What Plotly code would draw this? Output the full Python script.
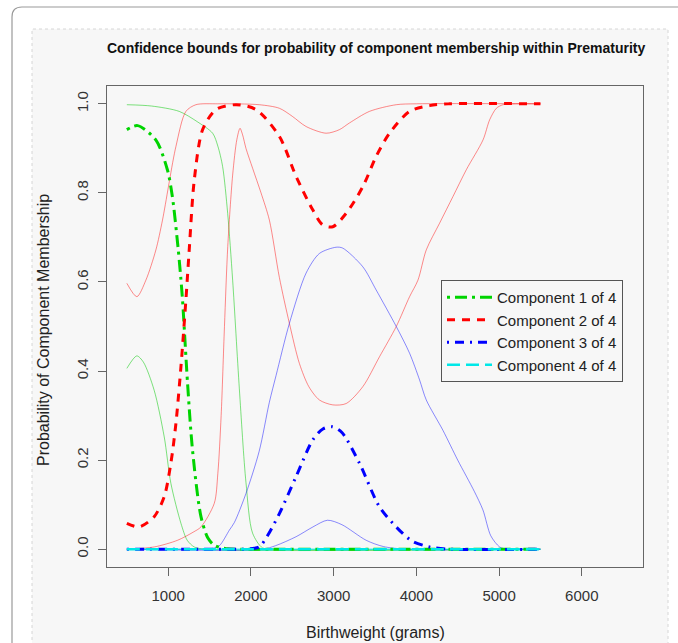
import plotly.graph_objects as go

# ---------------- data ----------------
comp1_x = [500, 630, 850, 990, 1050, 1120, 1154, 1173, 1234, 1294, 1396, 1480, 1557, 1700, 2000, 5500]
comp1_est = [0.942, 0.951, 0.919, 0.852, 0.792, 0.675, 0.605, 0.56, 0.372, 0.222, 0.073, 0.025, 0.009, 0.001, 0, 0]
comp1_up_x = [500, 800, 1133, 1350, 1537, 1600, 1658, 1719, 1779, 1860, 1940, 2020, 2140, 2300, 5500]
comp1_up = [0.998, 0.995, 0.983, 0.96, 0.934, 0.905, 0.859, 0.754, 0.604, 0.36, 0.15, 0.036, 0.003, 0, 0]
comp1_lo_x = [500, 620, 700, 830, 952, 1032, 1154, 1230, 1315, 1450, 5500]
comp1_lo = [0.406, 0.434, 0.42, 0.357, 0.252, 0.148, 0.058, 0.02, 0.005, 0, 0]

comp2_x = [500, 650, 830, 952, 1032, 1093, 1154, 1214, 1254, 1315, 1416, 1577, 1820, 2062, 2344,
           2546, 2747, 2868, 2990, 3151, 3353, 3514, 3676, 3918, 4160, 4400, 5500]
comp2_est = [0.058, 0.05, 0.073, 0.118, 0.193, 0.282, 0.41, 0.56, 0.672, 0.829, 0.942, 0.987, 0.998, 0.987, 0.927,
             0.837, 0.762, 0.728, 0.724, 0.754, 0.814, 0.882, 0.934, 0.983, 0.996, 1.0, 1.0]
comp2_up_x = [500, 621, 730, 851, 931, 1093, 1214, 1335, 1600, 2100, 2344, 2500, 2667, 2909, 3070, 3191,
              3433, 3757, 4000, 5500]
comp2_up = [0.597, 0.567, 0.604, 0.672, 0.739, 0.904, 0.983, 0.998, 1.0, 0.998, 0.99, 0.972, 0.949, 0.934, 0.942,
            0.957, 0.983, 0.998, 1.0, 1.0]
comp2_lo_x = [500, 830, 1113, 1300, 1396, 1557, 1600, 1640, 1680, 1720, 1779, 1830, 1868, 1900, 1940, 2021,
              2122, 2223, 2344, 2465, 2586, 2700, 2828, 2990, 3151, 3353, 3554, 3757, 3918, 4019, 4120, 4281,
              4443, 4604, 4806, 4886, 4967, 5048, 5200, 5500]
comp2_lo = [0.0, 0.005, 0.02, 0.038, 0.05, 0.103, 0.17, 0.3, 0.5, 0.68, 0.84, 0.92, 0.945, 0.93, 0.9, 0.855,
            0.8, 0.739, 0.61, 0.507, 0.417, 0.365, 0.335, 0.324, 0.327, 0.365, 0.432, 0.5, 0.567, 0.604, 0.672,
            0.732, 0.792, 0.852, 0.919, 0.964, 0.99, 0.998, 1.0, 1.0]

comp3_x = [500, 1900, 2000, 2100, 2200, 2344, 2546, 2747, 2870, 2982, 3100, 3312, 3554, 3756, 3950, 4160, 4400, 5500]
comp3_est = [0, 0, 0.001, 0.005, 0.03, 0.08, 0.163, 0.245, 0.27, 0.275, 0.262, 0.193, 0.095, 0.05, 0.018, 0.005, 0, 0]
comp3_up_x = [500, 1400, 1540, 1620, 1740, 1800, 1940, 2100, 2223, 2304, 2465, 2667, 2828, 3030, 3110, 3353,
              3514, 3757, 3918, 4039, 4120, 4321, 4500, 4700, 4805, 4900, 5007, 5100, 5500]
comp3_up = [0, 0, 0.002, 0.008, 0.043, 0.06, 0.125, 0.22, 0.33, 0.39, 0.507, 0.62, 0.664, 0.678, 0.676, 0.634,
            0.582, 0.5, 0.44, 0.38, 0.335, 0.267, 0.2, 0.13, 0.088, 0.03, 0.005, 0, 0]
comp3_lo_x = [500, 2140, 2300, 2546, 2750, 2925, 3100, 3393, 3600, 3877, 5500]
comp3_lo = [0, 0, 0.008, 0.028, 0.05, 0.065, 0.055, 0.02, 0.006, 0, 0]

comp4_x = [500, 5500]
comp4_est = [0, 0]
comp4_up = [0, 0]
comp4_lo = [0, 0]

labels = ["Component 1 of 4", "Component 2 of 4", "Component 3 of 4", "Component 4 of 4"]
x_ticks = [1000, 2000, 3000, 4000, 5000, 6000]
y_ticks = [0.0, 0.2, 0.4, 0.6, 0.8, 1.0]

# ---------------- styling ----------------
FONT = "Liberation Sans, Arial, sans-serif"
W, H = 678, 643
L, R, T, B = 107, 643, 86, 567

def px(x):
    return (x - L) / (R - L)

def py(y):
    return (B - y) / (B - T)

thick_col = ["#00d400", "#ff0000", "#0000ff", "#00e8e8"]
thin_col = ["rgba(0,200,0,0.5)", "rgba(255,0,0,0.45)", "rgba(0,0,255,0.45)", "rgba(0,230,230,0.6)"]
dashes = ["3px,5px,12px,5px", "8px,7px", "2px,6px,9px,6px", "13px,6px"]
widths = [3, 3, 3, 2.5]

est_sets = [(comp1_x, comp1_est), (comp2_x, comp2_est), (comp3_x, comp3_est), (comp4_x, comp4_est)]
bound_sets = [
    [(comp1_up_x, comp1_up), (comp1_lo_x, comp1_lo)],
    [(comp2_up_x, comp2_up), (comp2_lo_x, comp2_lo)],
    [(comp3_up_x, comp3_up), (comp3_lo_x, comp3_lo)],
    [(comp4_x, comp4_up), (comp4_x, comp4_lo)],
]

fig = go.Figure()

for i, bs in enumerate(bound_sets):
    for bx, by in bs:
        fig.add_trace(go.Scatter(
            x=bx, y=by, mode="lines", showlegend=False, hoverinfo="skip",
            line=dict(color=thin_col[i], width=1, shape="spline", smoothing=0.8),
        ))

for i, (ex, ey) in enumerate(est_sets):
    fig.add_trace(go.Scatter(
        x=ex, y=ey, mode="lines", name=labels[i],
        line=dict(color=thick_col[i], width=widths[i], dash=dashes[i], shape="spline", smoothing=0.8),
    ))

axis_common = dict(
    showgrid=False, zeroline=False, showline=True, mirror=True,
    linecolor="#666666", linewidth=1,
    ticks="outside", ticklen=8, tickcolor="#666666", tickwidth=1,
    tickfont=dict(family=FONT, size=15, color="#333333"),
)

fig.update_xaxes(range=[260, 6740], tickvals=x_ticks, ticktext=[str(v) for v in x_ticks],
                 ticklabelstandoff=7, **axis_common)
fig.update_yaxes(range=[-0.04, 1.04], tickvals=y_ticks, ticktext=["%.1f" % v for v in y_ticks],
                 tickangle=-90, ticklabelstandoff=4, **axis_common)

# outer frame (rounded top-left corner) and light panel
r = 10
x0o, y0o = 12, 7
arc_path = (
    f"M {px(x0o)},{py(y0o + r)} "
    f"Q {px(x0o)},{py(y0o)} {px(x0o + r)},{py(y0o)}"
)
frame_col = "#999999"

shapes = [
    dict(type="rect", xref="paper", yref="paper", layer="below",
         x0=px(32), x1=px(668), y0=py(H + 20), y1=py(29),
         fillcolor="#f7f7f7", line=dict(color="#d6d6d6", width=1, dash="dot")),
    dict(type="line", xref="paper", yref="paper", layer="above",
         x0=px(x0o), x1=px(x0o), y0=py(y0o + r), y1=py(H + 10),
         line=dict(color=frame_col, width=1.2)),
    dict(type="line", xref="paper", yref="paper", layer="above",
         x0=px(x0o + r), x1=px(W + 10), y0=py(y0o), y1=py(y0o),
         line=dict(color=frame_col, width=1.2)),
    dict(type="path", xref="paper", yref="paper", layer="above", path=arc_path,
         line=dict(color=frame_col, width=1.2)),
]

annotations = [
    dict(text="<b>Confidence bounds for probability of component membership within Prematurity</b>",
         xref="paper", yref="paper", x=px(375.5), y=py(48), showarrow=False,
         xanchor="center", yanchor="middle", font=dict(family=FONT, size=14, color="#111111")),
    dict(text="Birthweight (grams)", xref="paper", yref="paper", x=0.5, y=py(632),
         showarrow=False, xanchor="center", yanchor="middle",
         font=dict(family=FONT, size=16, color="#222222")),
    dict(text="Probability of Component Membership", xref="paper", yref="paper",
         x=px(43), y=py(330), textangle=-90, showarrow=False, xanchor="center", yanchor="middle",
         font=dict(family=FONT, size=16, color="#222222")),
]

fig.update_layout(
    width=W, height=H,
    margin=dict(l=L, r=W - R, t=T, b=H - B, pad=0),
    paper_bgcolor="#ffffff", plot_bgcolor="#f7f7f7",
    shapes=shapes, annotations=annotations,
    showlegend=True,
    legend=dict(
        x=px(441), y=py(280), xanchor="left", yanchor="top",
        bgcolor="#f7f7f7", bordercolor="#555555", borderwidth=1,
        font=dict(family=FONT, size=15, color="#222222"),
        itemwidth=45, tracegroupgap=0,
    ),
    font=dict(family=FONT),
)

fig.write_html("out.html")
